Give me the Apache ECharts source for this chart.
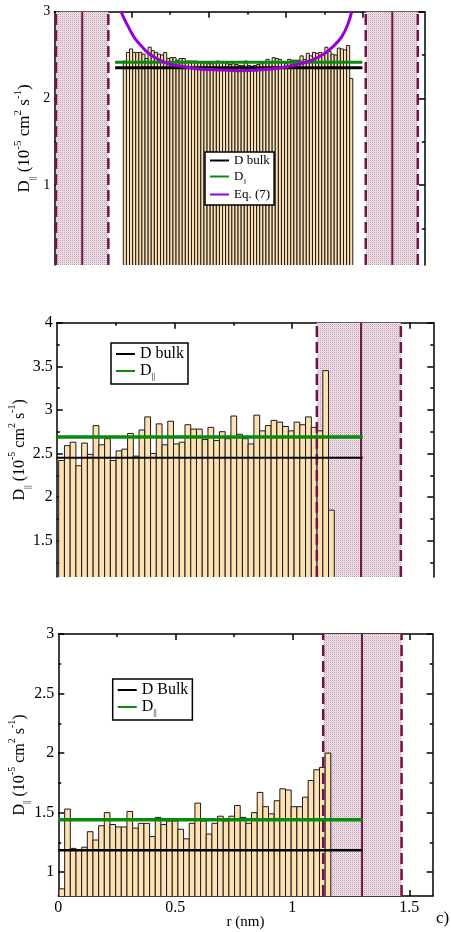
<!DOCTYPE html>
<html><head><meta charset="utf-8">
<script src="https://cdn.jsdelivr.net/npm/echarts@6/dist/echarts.min.js"></script>
<style>html,body{margin:0;padding:0;background:#fff}#c{width:451px;height:932px}</style>
</head><body><div id="c"></div>
<script>
// ================= DATA =================
// Panel a (top) – x in axis units (0 .. 2.4), bars between aBarFrom and aBarTo
const aBarFrom = 0.447, aBarTo = 1.933;
const aBars = [2.43,2.53,2.57,2.53,2.53,2.53,2.51,2.46,2.59,2.55,2.53,2.51,2.50,2.53,2.46,2.47,2.47,2.44,2.46,2.46,
  2.43,2.43,2.43,2.43,2.42,2.41,2.41,2.40,2.40,2.41,2.43,2.42,2.41,2.40,2.39,2.40,2.39,2.38,
  2.38,2.43,2.38,2.37,2.38,2.39,2.40,2.41,2.45,2.41,2.47,2.46,2.45,2.42,2.40,2.45,2.44,2.44,2.44,2.49,
  2.45,2.52,2.49,2.53,2.52,2.53,2.51,2.59,2.54,2.51,2.50,2.58,2.57,2.56,2.61,2.23];
const aEq7X = [0.432,0.458,0.490,0.523,0.566,0.609,0.674,0.738,0.825,0.933,1.041,1.203,1.386,1.559,1.667,1.753,1.818,1.861,1.900,1.926];
const aEq7Y = [3.00,2.90,2.79,2.69,2.60,2.52,2.45,2.40,2.37,2.34,2.33,2.32,2.335,2.385,2.44,2.52,2.62,2.71,2.85,3.00];
const aBulk = 2.354, aPar = 2.416, aLineRange = [0.394, 1.995];
const aWallBands = [[0.011, 0.350], [2.017, 2.354]];
const aWallSolid = [0.181, 2.189];
const aYRange = [0.077, 3], aXRange = [0, 2.4];
const aYMajor = [1, 2, 3], aYMinor = [0.5, 1.5, 2.5], aYLabels = [1, 2, 3];
const aXMajor = [0.5, 1, 1.5, 2], aXMinor = [0.25, 0.75, 1.25, 1.75, 2.25];

// Panel b (middle) – r in nm
const bBinStart = 0.008, bBinWidth = 0.0244;
const bBars = [2.42,2.59,2.63,2.36,2.62,2.49,2.82,2.60,2.67,2.42,2.53,2.55,2.73,2.47,2.77,2.92,2.50,2.84,2.60,2.87,
  2.61,2.63,2.83,2.78,2.78,2.66,2.80,2.65,2.75,2.67,2.93,2.72,2.67,2.61,2.94,2.76,2.82,2.88,2.86,2.81,
  2.76,2.86,2.83,2.92,2.80,2.76,3.45,1.85];
const bBulk = 2.45, bPar = 2.69, bLineRange = [0, 1.3];
const bWallBand = [1.105, 1.462], bWallSolid = 1.293;
const bYRange = [1.084, 4];
const bYMajor = [1.5, 2, 2.5, 3, 3.5, 4], bYMinor = [1.25, 1.75, 2.25, 2.75, 3.25, 3.75];

// Panel c (bottom) – r in nm
const cBinStart = 0.003, cBinWidth = 0.0242;
const cBars = [0.86,1.53,1.20,1.19,1.21,1.34,1.27,1.39,1.50,1.40,1.38,1.38,1.51,1.37,1.41,1.41,1.30,1.46,1.40,1.43,
  1.43,1.36,1.28,1.41,1.58,1.43,1.32,1.41,1.47,1.43,1.47,1.56,1.46,1.41,1.50,1.67,1.55,1.49,1.60,1.70,
  1.69,1.55,1.55,1.63,1.77,1.86,1.88,2.00];
const cBulk = 1.185, cPar = 1.44, cLineRange = [0, 1.3];
const cWallBand = [1.132, 1.467], cWallSolid = 1.298;
const cYRange = [0.8, 3];
const cYMajor = [1, 1.5, 2, 2.5, 3], cYMinor = [1.25, 1.75, 2.25, 2.75];

const rRange = [0, 1.6];
const rMajor = [0.5, 1, 1.5], rMinor = [0.25, 0.75, 1.25], rLabels = [0, 0.5, 1, 1.5];

// ================= STYLE =================
const SERIF = "'Liberation Serif','DejaVu Serif',serif";
const BAR_FILL = '#fde1b2', BAR_EDGE = '#1a1a1a';
const WALL = '#6f1446', GREEN = '#0a8a0a', PURPLE = '#9a00d6';

function stipple() {
  const cv = document.createElement('canvas'); cv.width = 2; cv.height = 2;
  const ctx = cv.getContext('2d');
  ctx.fillStyle = '#f2e8ed'; ctx.fillRect(0, 0, 2, 2);
  ctx.fillStyle = '#c29ab0'; ctx.fillRect(0, 0, 1, 1);
  ctx.fillStyle = '#e2ccd8'; ctx.fillRect(1, 1, 1, 1);
  return { image: cv, repeat: 'repeat' };
}
const PATTERN = stipple();

function axis(grid, pos, range, ticks, len, showLine, labels, labelSize) {
  return {
    type: 'value', gridIndex: grid, position: pos, min: range[0], max: range[1],
    axisLine: { show: showLine, onZero: false, lineStyle: { color: '#000', width: 1.5 } },
    axisTick: { show: true, inside: true, length: len, customValues: ticks, lineStyle: { color: '#000', width: 1.5 } },
    axisLabel: labels ? { show: true, customValues: labels, fontFamily: SERIF, fontSize: labelSize, color: '#000', margin: 4,
      formatter: v => String(v) } : { show: false },
    splitLine: { show: false }, minorTick: { show: false }, minorSplitLine: { show: false }
  };
}

const nameRich = (fs) => ({
  m: { fontFamily: SERIF, fontSize: fs, color: '#000', lineHeight: fs + 8, verticalAlign: 'middle' },
  sup: { fontFamily: SERIF, fontSize: Math.round(fs * 0.62), color: '#000', verticalAlign: 'top' },
  sub: { fontFamily: SERIF, fontSize: Math.round(fs * 0.55), color: '#000', verticalAlign: 'bottom' }
});
const yName = '{m|D}{sub|||}{m| (10}{sup|-5}{m| cm}{sup|2}{m| s}{sup|-1}{m|)}';

function withName(ax, fs, gap) {
  ax.name = yName; ax.nameLocation = 'middle'; ax.nameRotate = 90; ax.nameGap = gap;
  ax.nameMoveOverlap = false;
  ax.nameTextStyle = { rich: nameRich(fs), fontFamily: SERIF, fontSize: fs, color: '#000' };
  return ax;
}

const xAxes = [
  axis(0, 'top', aXRange, aXMajor, 6, true, null),      // 0
  axis(0, 'top', aXRange, aXMinor, 3, false, null),     // 1
  axis(1, 'top', rRange, rMajor, 6, true, null),        // 2
  axis(1, 'top', rRange, rMinor, 3, false, null),       // 3
  axis(2, 'bottom', rRange, rMajor, 6, true, rLabels, 16), // 4
  axis(2, 'bottom', rRange, rMinor, 3, false, null),    // 5
  axis(2, 'top', rRange, rMajor, 6, true, null),        // 6
  axis(2, 'top', rRange, rMinor, 3, false, null)        // 7
];
xAxes[4].name = 'r (nm)'; xAxes[4].nameLocation = 'middle'; xAxes[4].nameGap = 19;
xAxes[4].nameMoveOverlap = false;
xAxes[4].nameTextStyle = { fontFamily: SERIF, fontSize: 15, color: '#000' };

const yAxes = [
  withName(axis(0, 'left', aYRange, aYMajor, 6, true, aYLabels, 14), 17, 17), // 0
  axis(0, 'left', aYRange, aYMinor, 3, false, null),   // 1
  axis(0, 'right', aYRange, aYMajor, 6, true, null),   // 2
  axis(0, 'right', aYRange, aYMinor, 3, false, null),  // 3
  withName(axis(1, 'left', bYRange, bYMajor, 6, true, bYMajor, 16), 16, 25), // 4
  axis(1, 'left', bYRange, bYMinor, 3, false, null),   // 5
  axis(1, 'right', bYRange, bYMajor, 6, true, null),   // 6
  axis(1, 'right', bYRange, bYMinor, 3, false, null),  // 7
  withName(axis(2, 'left', cYRange, cYMajor, 6, true, cYMajor, 16), 16, 27), // 8
  axis(2, 'left', cYRange, cYMinor, 3, false, null),   // 9
  axis(2, 'right', cYRange, cYMajor, 6, true, null),   // 10
  axis(2, 'right', cYRange, cYMinor, 3, false, null)   // 11
];

// ================= SERIES BUILDERS =================
function histSeries(xi, yi, lefts, width, vals, ymin) {
  return {
    type: 'custom', xAxisIndex: xi, yAxisIndex: yi, z: 2, silent: true,
    data: vals.map((v, i) => [lefts + i * width, lefts + (i + 1) * width, v]),
    renderItem: (p, api) => {
      const a = api.coord([api.value(0), api.value(2)]);
      const b = api.coord([api.value(1), ymin]);
      return { type: 'group', children: [
        { type: 'rect', shape: { x: a[0], y: a[1], width: b[0] - a[0], height: b[1] - a[1] },
          style: { fill: BAR_FILL } },
        { type: 'polyline', shape: { points: [[a[0], b[1]], [a[0], a[1]], [b[0], a[1]], [b[0], b[1]]] },
          style: { stroke: BAR_EDGE, lineWidth: 1, fill: null } }
      ] };
    }
  };
}
function bandSeries(xi, yi, bands, yr) {
  return {
    type: 'custom', xAxisIndex: xi, yAxisIndex: yi, z: 1, silent: true,
    data: bands.map(b => [b[0], b[1]]),
    renderItem: (p, api) => {
      const a = api.coord([api.value(0), yr[1]]);
      const b = api.coord([api.value(1), yr[0]]);
      return { type: 'rect', shape: { x: a[0], y: a[1], width: b[0] - a[0], height: b[1] - a[1] },
        style: { fill: PATTERN } };
    }
  };
}
function vline(xi, yi, x, yr, dashed) {
  return { type: 'line', xAxisIndex: xi, yAxisIndex: yi, z: 3, silent: true, symbol: 'none', animation: false,
    data: [[x, yr[0]], [x, yr[1]]],
    lineStyle: { color: WALL, width: dashed ? 2.5 : 2, type: dashed ? [11, 5] : 'solid' } };
}
function hline(name, xi, yi, y, range, color, width) {
  return { name, type: 'line', xAxisIndex: xi, yAxisIndex: yi, z: 4, silent: true, symbol: 'none', color,
    data: [[range[0], y], [range[1], y]], lineStyle: { color, width } };
}

const series = [];
// panel a
series.push(bandSeries(0, 0, aWallBands, aYRange));
series.push(histSeries(0, 0, aBarFrom, (aBarTo - aBarFrom) / aBars.length, aBars, aYRange[0]));
aWallBands.forEach(b => { series.push(vline(0, 0, b[0], aYRange, true)); series.push(vline(0, 0, b[1], aYRange, true)); });
aWallSolid.forEach(x => series.push(vline(0, 0, x, aYRange, false)));
series.push(hline('a_bulk', 0, 0, aBulk, aLineRange, '#000', 3));
series.push(hline('a_par', 0, 0, aPar, aLineRange, GREEN, 3));
series.push({ name: 'a_eq7', type: 'line', xAxisIndex: 0, yAxisIndex: 0, z: 5, silent: true, symbol: 'none', smooth: 0.4,
  color: PURPLE, data: aEq7X.map((x, i) => [x, aEq7Y[i]]), lineStyle: { color: PURPLE, width: 3 } });
// panel b
series.push(bandSeries(2, 4, [bWallBand], bYRange));
series.push(histSeries(2, 4, bBinStart, bBinWidth, bBars, bYRange[0]));
series.push(vline(2, 4, bWallBand[0], bYRange, true));
series.push(vline(2, 4, bWallBand[1], bYRange, true));
series.push(vline(2, 4, bWallSolid, bYRange, false));
series.push(hline('b_bulk', 2, 4, bBulk, bLineRange, '#000', 2));
series.push(hline('b_par', 2, 4, bPar, bLineRange, GREEN, 3.5));
// panel c
series.push(bandSeries(4, 8, [cWallBand], cYRange));
series.push(histSeries(4, 8, cBinStart, cBinWidth, cBars, cYRange[0]));
series.push(vline(4, 8, cWallBand[0], cYRange, true));
series.push(vline(4, 8, cWallBand[1], cYRange, true));
series.push(vline(4, 8, cWallSolid, cYRange, false));
series.push(hline('c_bulk', 4, 8, cBulk, cLineRange, '#000', 2.5));
series.push(hline('c_par', 4, 8, cPar, cLineRange, GREEN, 3.5));

const legendText = {
  a_bulk: 'D bulk', a_par: '{m|D}{s|||}', a_eq7: 'Eq. (7)',
  b_bulk: 'D bulk', b_par: '{m|D}{s|||}',
  c_bulk: 'D Bulk', c_par: '{m|D}{s|||}'
};
function legend(names, left, top, fs, iw, ih, gap, pad) {
  return {
    orient: 'vertical', left, top, padding: pad, itemGap: gap, itemWidth: iw, itemHeight: ih,
    borderColor: '#000', borderWidth: 1.5, backgroundColor: '#fff', borderRadius: 0,
    selectedMode: false, data: names, formatter: n => legendText[n],
    itemStyle: { color: 'transparent', borderColor: 'transparent', borderWidth: 0, opacity: 0 },
    textStyle: { fontFamily: SERIF, fontSize: fs, color: '#000',
      rich: { m: { fontFamily: SERIF, fontSize: fs, color: '#000', verticalAlign: 'middle', lineHeight: fs + 4 },
              s: { fontFamily: SERIF, fontSize: Math.round(fs * 0.55), color: '#000', verticalAlign: 'bottom' } } }
  };
}

const option = {
  animation: false,
  backgroundColor: '#fff',
  grid: [
    { left: 54.3, top: 11.7, width: 370.6, height: 253.3, containLabel: false, outerBoundsMode: 'none', show: false },
    { left: 56.8, top: 322.7, width: 376.5, height: 254.3, containLabel: false, outerBoundsMode: 'none', show: false },
    { left: 58.3, top: 634, width: 374.4, height: 262, containLabel: false, outerBoundsMode: 'none', show: false }
  ],
  xAxis: xAxes,
  yAxis: yAxes,
  legend: [
    legend(['a_bulk', 'a_par', 'a_eq7'], 205, 152, 13, 19, 13, 3, [2, 4, 4, 4]),
    legend(['b_bulk', 'b_par'], 111, 343, 16, 19, 16, 1, [3, 4, 3, 4]),
    legend(['c_bulk', 'c_par'], 112.7, 679, 16, 19, 16, 1, [3, 4, 3, 4])
  ],
  title: { text: 'c)', left: 436, top: 910, padding: 0,
    textStyle: { fontFamily: SERIF, fontSize: 17, fontWeight: 'normal', color: '#000' } },
  series
};

const chart = echarts.init(document.getElementById('c'), null, { renderer: 'canvas' });
chart.setOption(option);
</script></body></html>
